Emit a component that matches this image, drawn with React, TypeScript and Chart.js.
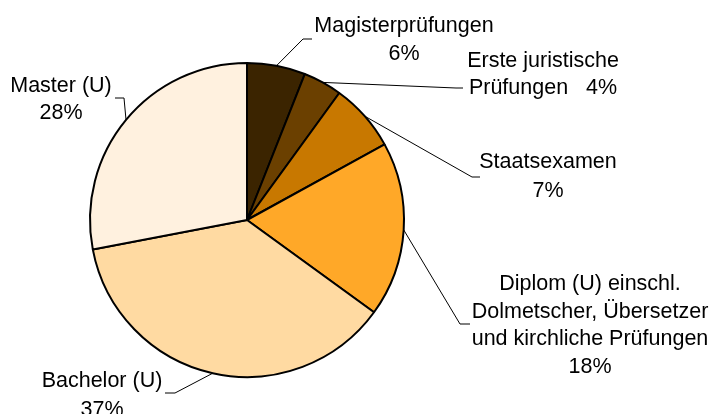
import React, { useEffect, useRef } from "react";
import { Chart, registerables } from "chart.js";

Chart.register(...registerables);

const categories = [
  "Magisterprüfungen",
  "Erste juristische Prüfungen",
  "Staatsexamen",
  "Diplom (U) einschl. Dolmetscher, Übersetzer und kirchliche Prüfungen",
  "Bachelor (U)",
  "Master (U)",
];
const shares = [6, 4, 7, 18, 37, 28];
const sliceColors = ["#3b2400", "#6b4000", "#c87800", "#ffa828", "#ffdaa2", "#fff1df"];

// label text lines (the percentage comes from shares)
const labelLines: string[][] = [
  ["Magisterprüfungen", "{p}"],
  ["Erste juristische", "Prüfungen   {p}"],
  ["Staatsexamen", "{p}"],
  ["Diplom (U) einschl.", "Dolmetscher, Übersetzer", "und kirchliche Prüfungen", "{p}"],
  ["Bachelor (U)", "{p}"],
  ["Master (U)", "{p}"],
];

// label layout: text center x, first baseline y, line step, leader elbow & end
const labelLayout = [
  { cx: 404, by: 32, step: 28, elbow: [303, 39], end: [312, 39] },
  { cx: 543, by: 67, step: 27, elbow: [456, 88], end: [463, 88] },
  { cx: 548, by: 168, step: 29, elbow: [472, 177], end: [480, 177] },
  { cx: 590, by: 290, step: 27.5, elbow: [460, 324], end: [470, 324] },
  { cx: 102, by: 387, step: 29, elbow: [175, 393], end: [165, 393] },
  { cx: 61, by: 92, step: 27, elbow: [124, 98], end: [115, 98] },
];

const labelPlugin = {
  id: "pieLabels",
  afterDraw(chart: any) {
    const ctx = chart.ctx;
    const meta = chart.getDatasetMeta(0);
    ctx.save();
    meta.data.forEach((arc: any, i: number) => {
      const p = arc.getProps(["x", "y", "startAngle", "endAngle", "outerRadius"], true);
      const mid = (p.startAngle + p.endAngle) / 2;
      const sx = p.x + Math.cos(mid) * p.outerRadius;
      const sy = p.y + Math.sin(mid) * p.outerRadius;
      const L = labelLayout[i];
      ctx.strokeStyle = "#000";
      ctx.lineWidth = 1;
      ctx.beginPath();
      ctx.moveTo(sx, sy);
      ctx.lineTo(L.elbow[0], L.elbow[1]);
      ctx.lineTo(L.end[0], L.end[1]);
      ctx.stroke();
      ctx.fillStyle = "#000";
      ctx.font = '21.5px "Liberation Sans", Arial, sans-serif';
      ctx.textAlign = "center";
      ctx.textBaseline = "alphabetic";
      labelLines[i].forEach((t, k) => {
        const txt = t.replace("{p}", shares[i] + "%");
        ctx.fillText(txt, L.cx, L.by + k * L.step);
      });
    });
    ctx.restore();
  },
};

export default function App() {
  const ref = useRef<HTMLCanvasElement>(null);
  useEffect(() => {
    if (!ref.current) return;
    const chart = new Chart(ref.current, {
      type: "pie",
      data: {
        labels: categories,
        datasets: [
          {
            data: shares,
            backgroundColor: sliceColors,
            borderColor: "#000",
            borderWidth: 2,
          },
        ],
      },
      options: {
        responsive: false,
        animation: false,
        layout: { padding: { left: 89, right: 308, top: 62, bottom: 36 } },
        plugins: { legend: { display: false }, tooltip: { enabled: false } },
      },
      plugins: [labelPlugin],
    });
    return () => chart.destroy();
  }, []);
  return (
    <div style={{ position: "fixed", left: 0, top: 0, width: 713, height: 414, background: "#fff" }}>
      <canvas ref={ref} width={713} height={414} />
    </div>
  );
}
